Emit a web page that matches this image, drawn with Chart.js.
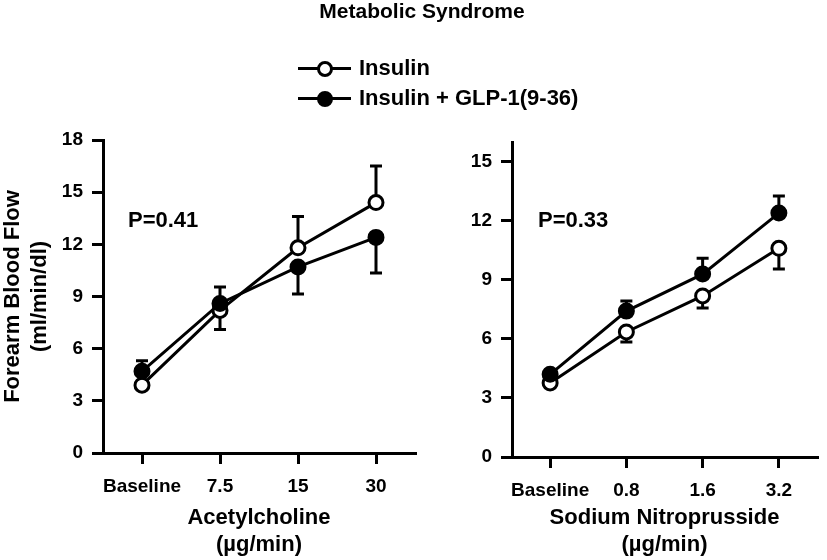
<!DOCTYPE html>
<html>
<head>
<meta charset="utf-8">
<script src="https://cdn.jsdelivr.net/npm/chart.js@4.4.1/dist/chart.umd.min.js"></script>
<style>
  body { margin: 0; background: #fff; }
  #wrap { position: relative; width: 827px; height: 560px; overflow: hidden; font-family: "Liberation Sans", Arial, sans-serif; font-weight: bold; color: #000; }
  canvas { position: absolute; left: 0; top: 0; }
  .txt { position: absolute; white-space: nowrap; line-height: 22px; font-size: 22px; }
  .judul { position: absolute; top: 0; left: 422px; transform: translateX(-50%); font-size: 21px; line-height: 21px; white-space: nowrap; }
  .garis { position: absolute; left: 298px; width: 53px; height: 3px; background: #000; }
  .bulat { position: absolute; left: 317px; width: 10px; height: 10px; border: 3px solid #000; border-radius: 50%; }
</style>
</head>
<body>
<div id="wrap">
  <canvas id="grafikKiri" width="827" height="560"></canvas>
  <canvas id="grafikKanan" width="827" height="560"></canvas>
  <div class="judul">Metabolic Syndrome</div>
  <div class="garis" style="top:67px"></div>
  <div class="bulat" style="top:61px;background:#fff"></div>
  <div class="txt" style="left:359px;top:57px">Insulin</div>
  <div class="garis" style="top:97px"></div>
  <div class="bulat" style="top:91px;background:#000"></div>
  <div class="txt" style="left:359px;top:87px">Insulin + GLP-1(9-36)</div>
  <div class="txt" style="left:128px;top:209px">P=0.41</div>
  <div class="txt" style="left:538px;top:209px">P=0.33</div>
</div>
<script>
// data yang dibaca dari gambar
const labelAch = ['Baseline', '7.5', '15', '30'];
const labelSnp = ['Baseline', '0.8', '1.6', '3.2'];
const tickKiri = [0, 3, 6, 9, 12, 15, 18];
const tickKanan = [0, 3, 6, 9, 12, 15];

const achInsulin = [3.9, 8.2, 11.8, 14.4];
const achInsulinAtas = [null, null, 13.6, 16.5];
const achInsulinBawah = [null, 7.1, null, null];
const achGlp = [4.7, 8.6, 10.7, 12.4];
const achGlpAtas = [5.3, 9.55, null, null];
const achGlpBawah = [null, null, 9.15, 10.35];

const snpInsulin = [3.76, 6.35, 8.18, 10.6];
const snpInsulinAtas = [null, null, null, null];
const snpInsulinBawah = [null, 5.84, 7.57, 9.55];
const snpGlp = [4.2, 7.41, 9.29, 12.39];
const snpGlpAtas = [null, 7.92, 10.1, 13.26];
const snpGlpBawah = [null, null, null, null];

const fontTebal = { family: '"Liberation Sans", Arial, sans-serif', weight: 'bold' };

// error bar satu sisi (atas / bawah), digambar sebelum titik
const pluginErrorBar = {
    id: 'errorBar',
    beforeDatasetsDraw(chart) {
        const ctx = chart.ctx;
        const skalaY = chart.scales.y;
        ctx.save();
        ctx.strokeStyle = '#000';
        ctx.lineWidth = 3;
        chart.data.datasets.forEach((ds, i) => {
            const meta = chart.getDatasetMeta(i);
            meta.data.forEach((titik, j) => {
                [ds.errAtas[j], ds.errBawah[j]].forEach(nilai => {
                    if (nilai === null) return;
                    const yUjung = skalaY.getPixelForValue(nilai);
                    ctx.beginPath();
                    ctx.moveTo(titik.x, titik.y);
                    ctx.lineTo(titik.x, yUjung);
                    ctx.moveTo(titik.x - 6, yUjung);
                    ctx.lineTo(titik.x + 6, yUjung);
                    ctx.stroke();
                });
            });
        });
        ctx.restore();
    }
};

function buatDataset(label, data, atas, bawah, isi, urutan) {
    return {
        label: label,
        data: data,
        errAtas: atas,
        errBawah: bawah,
        borderColor: '#000',
        borderWidth: 3,
        pointRadius: 7,
        pointBorderWidth: 3,
        pointBackgroundColor: isi,
        pointBorderColor: '#000',
        tension: 0,
        order: urutan
    };
}

function buatGrafik(id, labels, datasets, opsi) {
    return new Chart(document.getElementById(id), {
        type: 'line',
        data: { labels: labels, datasets: datasets },
        plugins: [pluginErrorBar],
        options: {
            responsive: false,
            animation: false,
            events: [],
            layout: { padding: opsi.padding },
            plugins: { legend: { display: false }, tooltip: { enabled: false } },
            scales: {
                x: {
                    offset: true,
                    grid: { offset: false, drawOnChartArea: false, tickLength: 11, lineWidth: 3, color: '#000' },
                    border: { display: true, width: 3, color: '#000' },
                    ticks: { autoSkip: false, color: '#000', padding: 11, font: Object.assign({ size: 19 }, fontTebal), maxRotation: 0 },
                    title: { display: true, text: opsi.judulX, color: '#000', padding: { top: 0, bottom: 2 }, font: Object.assign({ size: 22, lineHeight: 1.2 }, fontTebal) },
                    afterFit(skala) { skala.height = opsi.tinggiX; }
                },
                y: {
                    min: 0,
                    max: opsi.maxY,
                    afterBuildTicks(skala) { skala.ticks = opsi.ticks.map(v => ({ value: v })); },
                    grid: { drawOnChartArea: false, tickLength: 11, lineWidth: 3, color: '#000' },
                    border: { display: true, width: 3, color: '#000' },
                    ticks: { color: '#000', padding: 9, font: Object.assign({ size: 19 }, fontTebal) },
                    title: { display: opsi.judulY !== null, text: opsi.judulY, color: '#000', padding: { top: 0, bottom: 0 }, font: Object.assign({ size: 22, lineHeight: 1.2 }, fontTebal) },
                    afterFit(skala) { skala.width = opsi.lebarY; }
                }
            }
        }
    });
}

buatGrafik('grafikKiri', labelAch, [
    buatDataset('Insulin', achInsulin, achInsulinAtas, achInsulinBawah, '#fff', 1),
    buatDataset('Insulin + GLP-1(9-36)', achGlp, achGlpAtas, achGlpBawah, '#000', 0)
], {
    padding: { left: 0, right: 412, top: 140, bottom: 0 },
    judulX: ['Acetylcholine', '(µg/min)'],
    judulY: ['Forearm Blood Flow', '(ml/min/dl)'],
    maxY: 18,
    ticks: tickKiri,
    tinggiX: 107,
    lebarY: 103
});

buatGrafik('grafikKanan', labelSnp, [
    buatDataset('Insulin', snpInsulin, snpInsulinAtas, snpInsulinBawah, '#fff', 1),
    buatDataset('Insulin + GLP-1(9-36)', snpGlp, snpGlpAtas, snpGlpBawah, '#000', 0)
], {
    padding: { left: 452, right: 2, top: 142, bottom: 0 },
    judulX: ['Sodium Nitroprusside', '(µg/min)'],
    judulY: null,
    maxY: 16,
    ticks: tickKanan,
    tinggiX: 103,
    lebarY: 60
});
</script>
</body>
</html>
